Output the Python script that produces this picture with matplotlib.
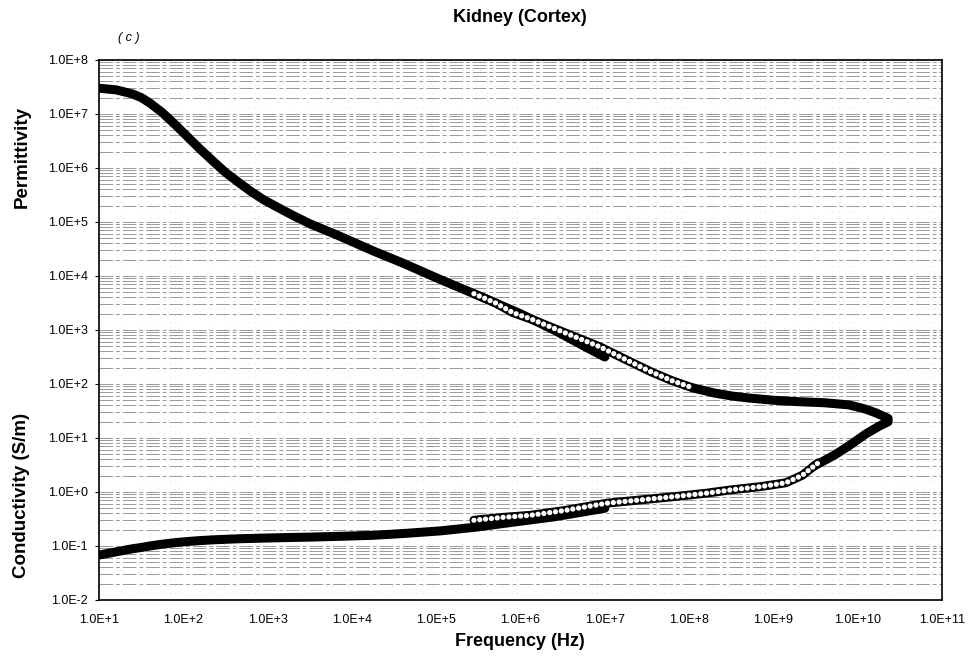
import matplotlib
matplotlib.use('Agg')
import matplotlib.pyplot as plt
import numpy as np
from matplotlib.ticker import FixedLocator, FuncFormatter, LogLocator, NullFormatter

plt.rcParams['font.family'] = ['Liberation Sans', 'DejaVu Sans']

# black data set, 10 Hz - 10 MHz
freq_low = [10, 16, 25, 32, 40, 56, 79, 112, 158, 224, 316, 447, 631, 891,
            1.29e3, 2e3, 3.16e3, 7.1e3, 1.8e4, 4e4, 1.1e5, 3e5, 1e6, 2.5e6, 6e6, 1e7]
perm_low = [3.0e7, 2.8e7, 2.35e7, 2.0e7, 1.6e7, 1.07e7, 6.5e6, 3.8e6, 2.24e6,
            1.35e6, 8.3e5, 5.5e5, 3.7e5, 2.6e5, 1.9e5, 1.32e5, 9.3e4, 5.5e4,
            2.9e4, 1.74e4, 8.7e3, 4.5e3, 2.0e3, 1.0e3, 480, 316]
cond_low = [0.068, 0.078, 0.089, 0.094, 0.100, 0.108, 0.115, 0.121, 0.126,
            0.130, 0.133, 0.136, 0.138, 0.140, 0.142, 0.144, 0.146, 0.151,
            0.158, 0.170, 0.19, 0.224, 0.288, 0.347, 0.437, 0.50]

# white circles, measured set
freq_mid_perm = [2.8e5, 5e5, 8.1e5, 1.4e6, 2.4e6, 4.5e6, 8.7e6, 1.8e7, 3.6e7, 6.3e7, 1.1e8]
perm_mid = [4.7e3, 3.2e3, 2.1e3, 1.55e3, 1.1e3, 740, 490, 280, 166, 115, 85]
freq_mid_cond = [2.8e5, 6.3e5, 1.3e6, 3.2e6, 1.05e7, 2.8e7, 7.1e7, 1.6e8, 3.2e8,
                 7.1e8, 1.4e9, 2.2e9, 3.4e9]
cond_mid = [0.30, 0.34, 0.37, 0.45, 0.62, 0.72, 0.83, 0.95, 1.10, 1.26, 1.48, 2.04, 3.47]

# black data set, high frequencies
freq_high_perm = [1.1e8, 2e8, 3.2e8, 5.1e8, 1e9, 2e9, 4e9, 7.9e9, 1.26e10, 1.66e10, 2.3e10]
perm_high = [85, 68, 60, 55, 50, 47, 45, 41, 34, 29, 23]
freq_high_cond = [3.0e9, 4.0e9, 5.5e9, 7.9e9, 1.26e10, 1.8e10, 2.3e10]
cond_high = [3.0, 3.8, 5.0, 7.2, 12.0, 16.6, 20]

x_ticks = [10.0 ** k for k in range(1, 12)]
y_ticks = [10.0 ** k for k in range(-2, 9)]


def sci(v, pos=None):
    e = int(round(np.log10(v)))
    return '1.0E%+d' % e


fig = plt.figure(figsize=(9.69, 6.65), dpi=100)
ax = fig.add_axes([99 / 969, 1 - 600 / 665, (942 - 99) / 969, 540 / 665])
ax.set_xscale('log')
ax.set_yscale('log')
ax.set_xlim(1e1, 1e11)
ax.set_ylim(1e-2, 1e8)

# grid: dense grey horizontal lines, faint dotted verticals
ax.set_axisbelow(True)
ax.yaxis.set_minor_locator(LogLocator(base=10, subs=np.arange(2, 10), numticks=20))
ax.yaxis.set_minor_formatter(NullFormatter())
ax.xaxis.set_minor_locator(LogLocator(base=10, subs=np.arange(2, 10), numticks=20))
ax.xaxis.set_minor_formatter(NullFormatter())
ax.yaxis.grid(True, which='both', color='0.6', lw=0.7, linestyle=(0, (14, 3, 4, 3)))
ax.xaxis.grid(True, which='minor', color='0.75', lw=0.5, linestyle=(0, (1, 9)))

black_lw = 6.5
for fx, vy in [(freq_low, perm_low), (freq_low, cond_low),
               (freq_high_perm, perm_high), (freq_high_cond, cond_high)]:
    ax.plot(fx, vy, color='black', lw=black_lw, solid_capstyle='round',
            solid_joinstyle='round', zorder=3)

# white open circles drawn as a dotted white chain on a black base
for fx, vy in [(freq_mid_perm, perm_mid), (freq_mid_cond, cond_mid)]:
    ax.plot(fx, vy, color='black', lw=6.4, solid_capstyle='round',
            solid_joinstyle='round', zorder=4)
    ax.plot(fx, vy, color='white', lw=3.8, linestyle=(0, (0.01, 1.1)),
            dash_capstyle='round', zorder=5)

ax.xaxis.set_major_locator(FixedLocator(x_ticks))
ax.yaxis.set_major_locator(FixedLocator(y_ticks))
ax.xaxis.set_major_formatter(FuncFormatter(sci))
ax.yaxis.set_major_formatter(FuncFormatter(sci))
ax.tick_params(axis='x', which='both', length=0, pad=10, labelsize=9)
ax.tick_params(axis='y', which='major', length=3, direction='out', pad=5, labelsize=9)
ax.tick_params(axis='y', which='minor', length=0)
for s in ax.spines.values():
    s.set_linewidth(1.2)
    s.set_color('black')

fig.text(520 / 969, 1 - 18 / 665, 'Kidney (Cortex)', ha='center', va='center',
         fontsize=13, fontweight='bold')
fig.text(129 / 969, 1 - 38 / 665, '( c )', ha='center', va='center',
         fontsize=9, style='italic')
fig.text(520 / 969, 1 - 641 / 665, 'Frequency (Hz)', ha='center', va='center',
         fontsize=13, fontweight='bold')
fig.text(22 / 969, 1 - 157 / 665, 'Permittivity', ha='center', va='center',
         rotation=90, fontsize=13.5, fontweight='bold')
fig.text(22 / 969, 1 - 495 / 665, 'Conductivity (S/m)', ha='center', va='center',
         rotation=90, fontsize=13.5, fontweight='bold')

fig.savefig('out.png', dpi=100)
